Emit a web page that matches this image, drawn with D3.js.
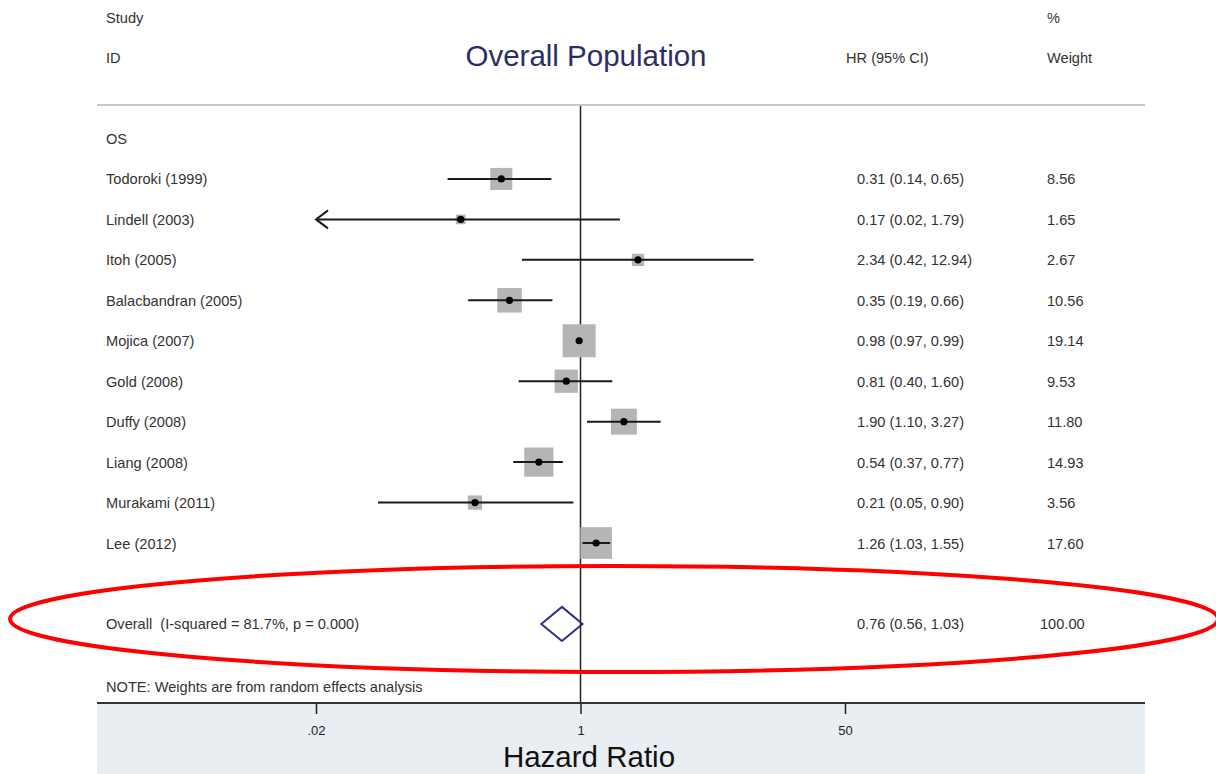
<!DOCTYPE html>
<html><head><meta charset="utf-8">
<script src="https://cdn.jsdelivr.net/npm/d3@7"></script>
<style>body{margin:0;background:#fff;} svg{display:block;font-family:"Liberation Sans",Arial,sans-serif;} text{white-space:pre;}</style>
</head><body>
<svg id="c" width="1216" height="774"></svg>
<script>
const studies = ["Todoroki (1999)","Lindell (2003)","Itoh (2005)","Balacbandran (2005)","Mojica (2007)","Gold (2008)","Duffy (2008)","Liang (2008)","Murakami (2011)","Lee (2012)"];
const hr      = [0.31,0.17,2.34,0.35,0.98,0.81,1.90,0.54,0.21,1.26];
const lower   = [0.14,0.02,0.42,0.19,0.97,0.40,1.10,0.37,0.05,1.03];
const upper   = [0.65,1.79,12.94,0.66,0.99,1.60,3.27,0.77,0.90,1.55];
const weights = ["8.56","1.65","2.67","10.56","19.14","9.53","11.80","14.93","3.56","17.60"];
const overall = {label:"Overall  (I-squared = 81.7%, p = 0.000)", hr:0.76, lo:0.56, hi:1.03, w:"100.00"};
const tickValues = [0.02, 1, 50];
const tickLabels = [".02", "1", "50"];
const axisMin = 0.02; // CI arrows clipped at this bound

const svg = d3.select("#c");
const L = 97, R = 1145, axisY = 703, topY = 105;
const x = d3.scaleLog().domain([0.02, 50]).range([316, 845]);
const y = d3.scaleLinear().domain([0, 1]).range([138.5, 178.95]); // row index -> y
const side = d3.scaleSqrt().domain([0, 19.14]).range([0, 33]);
const txt = "#333";
const fs = 14.6;

// bottom band
svg.append("rect").attr("x", L).attr("y", axisY).attr("width", R - L).attr("height", 774 - axisY).attr("fill", "#e8eef1");

// header
const hdr = svg.append("g").attr("font-size", fs).attr("fill", txt);
hdr.append("text").attr("x", 106).attr("y", 23).text("Study");
hdr.append("text").attr("x", 106).attr("y", 63).text("ID");
hdr.append("text").attr("x", 1047).attr("y", 23).text("%");
hdr.append("text").attr("x", 1047).attr("y", 63).text("Weight");
hdr.append("text").attr("x", 846).attr("y", 63).text("HR (95% CI)");
svg.append("text").attr("x", 586).attr("y", 66).attr("text-anchor", "middle").attr("font-size", 29.5).attr("fill", "#2b2e66").text("Overall Population");
svg.append("line").attr("x1", L).attr("x2", R).attr("y1", topY).attr("y2", topY).attr("stroke", "#c8c8c8").attr("stroke-width", 2);

// null line
svg.append("line").attr("x1", x(1)).attr("x2", x(1)).attr("y1", topY + 1).attr("y2", axisY).attr("stroke", "#222").attr("stroke-width", 1.5);

// labels
const lab = svg.append("g").attr("font-size", fs).attr("fill", txt);
lab.append("text").attr("x", 106).attr("y", y(0) + 5.5).text("OS");

const rows = studies.map((s, i) => ({s, hr: hr[i], lo: lower[i], hi: upper[i], w: weights[i], i: i + 1}));

rows.forEach(d => {
  const cy = y(d.i);
  lab.append("text").attr("x", 106).attr("y", cy + 5.5).text(d.s);
  lab.append("text").attr("x", 857).attr("y", cy + 5.5).text(`${d.hr.toFixed(2)} (${d.lo.toFixed(2)}, ${d.hi.toFixed(2)})`);
  lab.append("text").attr("x", 1047).attr("y", cy + 5.5).text(d.w);
  const s = side(+d.w);
  svg.append("rect").attr("x", x(d.hr) - s / 2).attr("y", cy - s / 2).attr("width", s).attr("height", s).attr("fill", "#b5b5b5");
  const x0 = x(Math.max(d.lo, axisMin));
  svg.append("line").attr("x1", x0).attr("x2", x(d.hi)).attr("y1", cy).attr("y2", cy).attr("stroke", "#1a1a1a").attr("stroke-width", 2);
  if (d.lo <= axisMin) {
    svg.append("path").attr("d", `M${x0 + 12},${cy - 9}L${x0},${cy}L${x0 + 12},${cy + 9}`).attr("fill", "none").attr("stroke", "#1a1a1a").attr("stroke-width", 2);
  }
  svg.append("circle").attr("cx", x(d.hr)).attr("cy", cy).attr("r", 3.6).attr("fill", "#000");
});

// overall
const oy = y(12);
lab.append("text").attr("x", 106).attr("y", oy + 5.5).text(overall.label);
lab.append("text").attr("x", 857).attr("y", oy + 5.5).text(`${overall.hr.toFixed(2)} (${overall.lo.toFixed(2)}, ${overall.hi.toFixed(2)})`);
lab.append("text").attr("x", 1040).attr("y", oy + 5.5).text(overall.w);
svg.append("path").attr("d", `M${x(overall.lo)},${oy}L${x(overall.hr)},${oy - 17}L${x(overall.hi)},${oy}L${x(overall.hr)},${oy + 17}Z`)
  .attr("fill", "none").attr("stroke", "#2e3192").attr("stroke-width", 2);
lab.append("text").attr("x", 106).attr("y", y(13.55) + 5.5).text("NOTE: Weights are from random effects analysis");

// axis
svg.append("line").attr("x1", L).attr("x2", R).attr("y1", axisY).attr("y2", axisY).attr("stroke", "#333").attr("stroke-width", 2);
const ax = d3.axisBottom(x).tickValues(tickValues).tickFormat((d, i) => tickLabels[i]).tickSize(11).tickPadding(12);
const g = svg.append("g").attr("transform", `translate(0,${axisY})`).call(ax);
g.select(".domain").remove();
g.selectAll(".tick line").attr("stroke", "#222").attr("stroke-width", 1.5);
g.selectAll(".tick text").attr("font-size", 13).attr("fill", "#222").attr("font-family", "Liberation Sans, Arial, sans-serif");
svg.append("text").attr("x", 589).attr("y", 767).attr("text-anchor", "middle").attr("font-size", 29.5).attr("fill", "#111").text("Hazard Ratio");

// red annotation ellipse
svg.append("ellipse").attr("cx", 614).attr("cy", 619).attr("rx", 604).attr("ry", 53)
  .attr("fill", "none").attr("stroke", "#f00").attr("stroke-width", 4);
</script>
</body></html>
